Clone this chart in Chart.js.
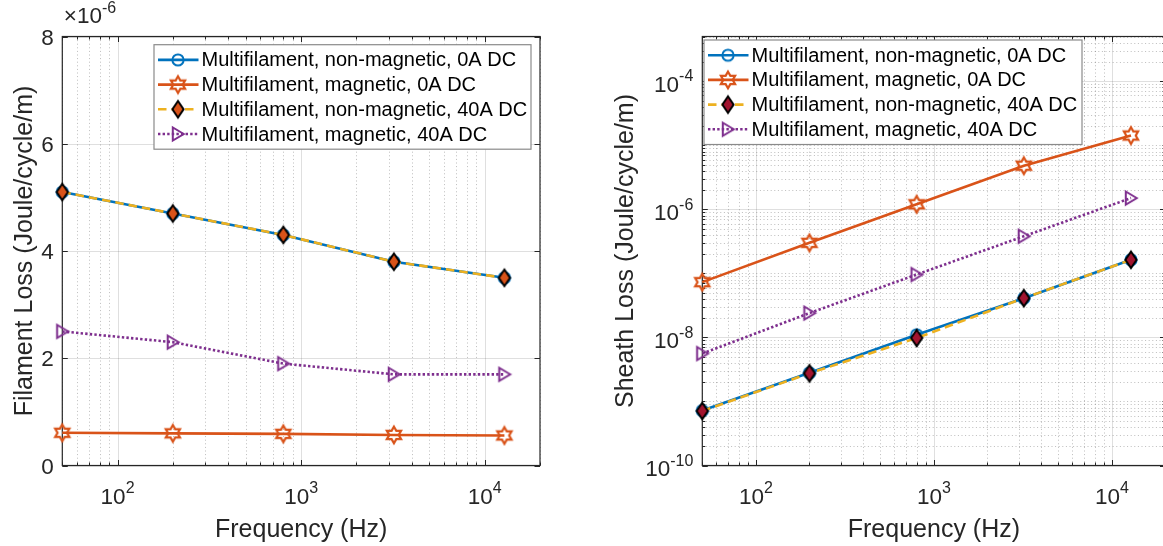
<!DOCTYPE html>
<html>
<head>
<meta charset="utf-8">
<script src="https://cdn.jsdelivr.net/npm/chart.js@4.4.1/dist/chart.umd.min.js"></script>
<style>
  html, body { margin: 0; padding: 0; background: #fff; overflow: hidden; width: 1163px; height: 546px; }
  canvas { position: absolute; top: 0; }
  #filamentChart { left: 0; }
  #sheathChart { left: 580px; }
</style>
</head>
<body>
<canvas id="filamentChart" width="600" height="546"></canvas>
<canvas id="sheathChart" width="620" height="546"></canvas>
<script>
// ---- data ---------------------------------------------------------------
const frequencies = [50, 200, 800, 3200, 12800];

const seriesNames = [
  'Multifilament, non-magnetic, 0A DC',
  'Multifilament, magnetic, 0A DC',
  'Multifilament, non-magnetic, 40A DC',
  'Multifilament, magnetic, 40A DC'
];

// filament loss, J/cycle/m
const filamentNonMag0A  = [5.1e-6, 4.7e-6, 4.3e-6, 3.8e-6, 3.5e-6];
const filamentMag0A     = [0.61e-6, 0.60e-6, 0.59e-6, 0.57e-6, 0.56e-6];
const filamentNonMag40A = [5.1e-6, 4.7e-6, 4.3e-6, 3.8e-6, 3.5e-6];
const filamentMag40A    = [2.5e-6, 2.3e-6, 1.9e-6, 1.7e-6, 1.7e-6];

// sheath loss, J/cycle/m
const sheathNonMag0A  = [7.2e-10, 2.8e-9, 1.1e-8, 4.1e-8, 1.63e-7];
const sheathMag0A     = [7.3e-8, 3.0e-7, 1.2e-6, 4.8e-6, 1.42e-5];
const sheathNonMag40A = [7.1e-10, 2.75e-9, 9.8e-9, 4.1e-8, 1.63e-7];
const sheathMag40A    = [5.6e-9, 2.4e-8, 9.6e-8, 3.8e-7, 1.5e-6];

// ticks
const xTickValues = [100, 1000, 10000];
const xTickExponents = ['2', '3', '4'];
const filamentYTickValues = [0, 2e-6, 4e-6, 6e-6, 8e-6];
const filamentYTickLabels = ['0', '2', '4', '6', '8'];
const filamentYExponent = '-6';
const sheathYTickValues = [1e-10, 1e-8, 1e-6, 1e-4];
const sheathYTickExponents = ['-10', '-8', '-6', '-4'];

// ---- styling ------------------------------------------------------------
const C = {
  blue: '#0072BD', orange: '#D95319', yellow: '#EDB120',
  purple: '#7E2F8E', darkRed: '#A2142F', axis: '#262626'
};
const FAMILY = "'Liberation Sans', Arial, Helvetica, sans-serif";
const FONT_TICK = '22.5px ' + FAMILY;
const FONT_SUP = '16px ' + FAMILY;
const FONT_TITLE = '25px ' + FAMILY;
const FONT_LEGEND = '20px ' + FAMILY;
const LINE_W = 2.6;

// ---- marker glyphs ------------------------------------------------------
function glyph(w, h, draw) {
  const c = document.createElement('canvas');
  c.width = w; c.height = h;
  const g = c.getContext('2d');
  g.translate(w / 2, h / 2);
  draw(g);
  return c;
}
const circleMark = glyph(18, 18, g => {
  g.beginPath(); g.arc(0, 0, 5.6, 0, Math.PI * 2);
  g.lineWidth = 2; g.strokeStyle = C.blue; g.stroke();
});
const hexagramMark = glyph(22, 22, g => {
  const R = 8.2, r = R / Math.sqrt(3);
  g.beginPath();
  for (let k = 0; k < 12; k++) {
    const a = -Math.PI / 2 + k * Math.PI / 6;
    const rr = k % 2 === 0 ? R : r;
    g.lineTo(rr * Math.cos(a), rr * Math.sin(a));
  }
  g.closePath();
  g.lineWidth = 2.2; g.lineJoin = 'miter'; g.strokeStyle = C.orange; g.stroke();
});
const diamondMark = fill => glyph(18, 24, g => {
  g.beginPath();
  g.moveTo(0, -8.3); g.lineTo(5.6, 0); g.lineTo(0, 8.3); g.lineTo(-5.6, 0);
  g.closePath();
  g.fillStyle = fill; g.fill();
  g.lineWidth = 2; g.lineJoin = 'miter'; g.strokeStyle = '#000'; g.stroke();
});
const triangleMark = glyph(20, 20, g => {
  g.beginPath();
  g.moveTo(5.8, 0); g.lineTo(-5.2, -6.5); g.lineTo(-5.2, 6.5);
  g.closePath();
  g.lineWidth = 2; g.lineJoin = 'miter'; g.strokeStyle = C.purple; g.stroke();
});

function pairs(values) {
  return frequencies.map((f, i) => ({ x: f, y: values[i] }));
}

function buildDatasets(series, diamondFill) {
  const base = { borderWidth: LINE_W, tension: 0, pointRadius: 6, clip: false, fill: false };
  return [
    Object.assign({}, base, { label: seriesNames[0], data: pairs(series[0]), borderColor: C.blue,
      pointStyle: circleMark, order: 4 }),
    Object.assign({}, base, { label: seriesNames[1], data: pairs(series[1]), borderColor: C.orange,
      pointStyle: hexagramMark, order: 3 }),
    Object.assign({}, base, { label: seriesNames[2], data: pairs(series[2]), borderColor: C.yellow,
      borderDash: [8.5, 5], pointStyle: diamondMark(diamondFill), order: 2 }),
    Object.assign({}, base, { label: seriesNames[3], data: pairs(series[3]), borderColor: C.purple,
      borderDash: [2.4, 2.2], pointStyle: triangleMark, order: 1 })
  ];
}

// ---- axes decoration: grid, box, ticks, labels, legend ------------------
function logMinors(min, max, majors) {
  const out = [];
  for (let e = Math.floor(Math.log10(min)); e <= Math.ceil(Math.log10(max)); e++) {
    for (let k = 1; k <= 9; k++) {
      const v = k * Math.pow(10, e);
      if (v < min * 0.999 || v > max * 1.001) continue;
      if (majors.some(m => Math.abs(m - v) / v < 1e-6)) continue;
      out.push(v);
    }
  }
  return out;
}

function powLabel(ctx, base, sup, x, y, align, raise) {
  ctx.font = FONT_TICK;
  const wb = ctx.measureText(base).width;
  ctx.font = FONT_SUP;
  const ws = ctx.measureText(sup).width;
  const total = wb + ws;
  const x0 = align === 'center' ? x - total / 2 : align === 'right' ? x - total : x;
  ctx.textAlign = 'left';
  ctx.textBaseline = 'alphabetic';
  ctx.font = FONT_TICK; ctx.fillText(base, x0, y);
  ctx.font = FONT_SUP; ctx.fillText(sup, x0 + wb, y - (raise || 10.6));
}

const axesDecor = {
  id: 'axesDecor',
  beforeDatasetsDraw(chart, args, o) {
    const { ctx, chartArea: a, scales: { x, y } } = chart;
    const xMinors = logMinors(x.min, x.max, o.xMajors);
    const yMinors = o.yLog ? logMinors(y.min, y.max, o.yMajors) : [];
    const px = v => Math.round(x.getPixelForValue(v)) + 0.5;
    const py = v => Math.round(y.getPixelForValue(v)) + 0.5;
    ctx.save();
    // minor grid, dotted
    ctx.lineWidth = 1;
    ctx.strokeStyle = 'rgba(38,38,38,0.30)';
    ctx.setLineDash([1, 2.6]);
    xMinors.forEach(v => { ctx.beginPath(); ctx.moveTo(px(v), a.top); ctx.lineTo(px(v), a.bottom); ctx.stroke(); });
    yMinors.forEach(v => { ctx.beginPath(); ctx.moveTo(a.left, py(v)); ctx.lineTo(a.right, py(v)); ctx.stroke(); });
    // major grid
    ctx.setLineDash([]);
    ctx.strokeStyle = 'rgba(38,38,38,0.15)';
    o.xMajors.forEach(v => { ctx.beginPath(); ctx.moveTo(px(v), a.top); ctx.lineTo(px(v), a.bottom); ctx.stroke(); });
    o.yMajors.forEach(v => { ctx.beginPath(); ctx.moveTo(a.left, py(v)); ctx.lineTo(a.right, py(v)); ctx.stroke(); });

    // ticks (inward, all four sides)
    ctx.strokeStyle = C.axis;
    ctx.lineWidth = 1;
    const tickX = (v, len) => {
      ctx.beginPath();
      ctx.moveTo(px(v), a.bottom); ctx.lineTo(px(v), a.bottom - len);
      ctx.moveTo(px(v), a.top); ctx.lineTo(px(v), a.top + len);
      ctx.stroke();
    };
    const tickY = (v, len) => {
      ctx.beginPath();
      ctx.moveTo(a.left, py(v)); ctx.lineTo(a.left + len, py(v));
      ctx.moveTo(a.right, py(v)); ctx.lineTo(a.right - len, py(v));
      ctx.stroke();
    };
    o.xMajors.forEach(v => tickX(v, 5.5));
    xMinors.forEach(v => tickX(v, 3));
    o.yMajors.forEach(v => tickY(v, 5.5));
    yMinors.forEach(v => tickY(v, 3));

    // axes box
    ctx.lineWidth = 1.2;
    ctx.strokeRect(a.left, a.top, a.right - a.left, a.bottom - a.top);

    // tick labels
    ctx.fillStyle = C.axis;
    o.xMajors.forEach((v, i) => powLabel(ctx, '10', o.xExponents[i], x.getPixelForValue(v), a.bottom + 38, 'center'));
    if (o.yLog) {
      o.yMajors.forEach((v, i) => powLabel(ctx, '10', o.yExponents[i], a.left - 9, y.getPixelForValue(v) + 10.8, 'right'));
    } else {
      ctx.font = FONT_TICK; ctx.textAlign = 'right'; ctx.textBaseline = 'alphabetic';
      o.yMajors.forEach((v, i) => ctx.fillText(o.yLabels[i], a.left - 8.5, y.getPixelForValue(v) + 8));
      powLabel(ctx, '\u00d710', o.yMultiplier, a.left + 1.5, a.top - 13.8, 'left', 9.6);
    }

    // axis titles
    ctx.font = FONT_TITLE; ctx.textAlign = 'center'; ctx.textBaseline = 'alphabetic';
    ctx.fillText(o.xTitle, (a.left + a.right) / 2, a.bottom + 71);
    ctx.save();
    ctx.translate(a.left - o.yTitleGap, (a.top + a.bottom) / 2);
    ctx.rotate(-Math.PI / 2);
    ctx.fillText(o.yTitle, 0, 0);
    ctx.restore();
    ctx.restore();
  },
  afterDatasetsDraw(chart, args, o) {
    const { ctx } = chart;
    const L = o.legend;
    ctx.save();
    ctx.fillStyle = '#fff';
    ctx.fillRect(L.left, L.top, L.width, L.height);
    ctx.strokeStyle = '#8a8a8a';
    ctx.lineWidth = 1.2;
    ctx.strokeRect(L.left, L.top, L.width, L.height);
    chart.data.datasets.forEach((ds, i) => {
      const cy = L.top + 15.2 + i * 24.7;
      ctx.beginPath();
      ctx.setLineDash(ds.borderDash || []);
      ctx.strokeStyle = ds.borderColor;
      ctx.lineWidth = ds.borderWidth;
      ctx.moveTo(L.left + 4, cy); ctx.lineTo(L.left + 44.5, cy);
      ctx.stroke();
      ctx.setLineDash([]);
      const m = ds.pointStyle;
      ctx.drawImage(m, L.left + 24 - m.width / 2, cy - m.height / 2);
      ctx.fillStyle = '#000';
      ctx.font = FONT_LEGEND; ctx.textAlign = 'left'; ctx.textBaseline = 'middle';
      ctx.fillText(ds.label, L.left + 47.5, cy + 1);
    });
    ctx.restore();
  }
};

function makeChart(id, series, diamondFill, yScale, padding, decor) {
  return new Chart(document.getElementById(id), {
    type: 'line',
    data: { datasets: buildDatasets(series, diamondFill) },
    options: {
      responsive: false,
      animation: false,
      devicePixelRatio: 1,
      layout: { padding },
      scales: {
        x: { type: 'logarithmic', min: 50, max: 20000, display: false },
        y: Object.assign({ display: false }, yScale)
      },
      plugins: { legend: { display: false }, tooltip: { enabled: false }, axesDecor: decor }
    },
    plugins: [axesDecor]
  });
}

makeChart('filamentChart',
  [filamentNonMag0A, filamentMag0A, filamentNonMag40A, filamentMag40A],
  C.orange,
  { type: 'linear', min: 0, max: 8e-6 },
  { left: 62.3, top: 36.5, right: 60, bottom: 80.5 },
  {
    xMajors: xTickValues, xExponents: xTickExponents,
    yLog: false, yMajors: filamentYTickValues, yLabels: filamentYTickLabels, yMultiplier: filamentYExponent,
    xTitle: 'Frequency (Hz)', yTitle: 'Filament Loss (Joule/cycle/m)', yTitleGap: 30,
    legend: { left: 154, top: 44.7, width: 377, height: 104.5 }
  });

makeChart('sheathChart',
  [sheathNonMag0A, sheathMag0A, sheathNonMag40A, sheathMag40A],
  C.darkRed,
  { type: 'logarithmic', min: 1e-10, max: 5e-4 },
  { left: 122.3, top: 36.5, right: 34.5, bottom: 80.5 },
  {
    xMajors: xTickValues, xExponents: xTickExponents,
    yLog: true, yMajors: sheathYTickValues, yExponents: sheathYTickExponents,
    xTitle: 'Frequency (Hz)', yTitle: 'Sheath Loss (Joule/cycle/m)', yTitleGap: 69,
    legend: { left: 124, top: 40, width: 378, height: 104.5 }
  });
</script>
</body>
</html>
